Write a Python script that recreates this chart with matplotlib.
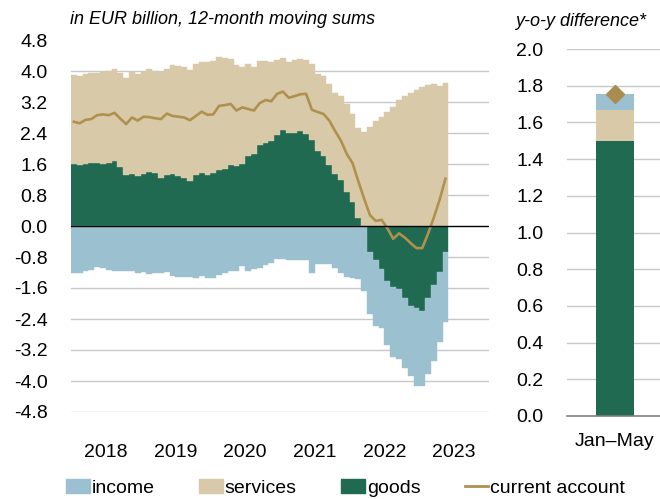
import numpy as np
import matplotlib
matplotlib.use('Agg')
import matplotlib.pyplot as plt
from matplotlib.patches import Patch
from matplotlib.lines import Line2D

plt.rcParams['font.family'] = ['Liberation Sans', 'DejaVu Sans']
plt.rcParams['axes.unicode_minus'] = False

# monthly data, Jan 2018 - May 2023 (EUR bn, 12-month moving sums)
goods = [1.60, 1.58, 1.60, 1.62, 1.62, 1.61, 1.62, 1.67, 1.51, 1.32, 1.35, 1.29,
         1.33, 1.40, 1.36, 1.25, 1.32, 1.35, 1.29, 1.25, 1.16, 1.32, 1.36, 1.32,
         1.37, 1.44, 1.47, 1.57, 1.56, 1.60, 1.81, 1.85, 2.10, 2.13, 2.20, 2.35,
         2.47, 2.39, 2.41, 2.44, 2.37, 2.22, 1.94, 1.81, 1.57, 1.35, 1.20, 0.89,
         0.63, 0.20, -0.03, -0.66, -0.88, -1.12, -1.41, -1.58, -1.62, -1.87, -2.06, -2.12,
         -2.19, -1.87, -1.52, -1.18, -0.66]
services = [2.30, 2.30, 2.31, 2.32, 2.34, 2.36, 2.38, 2.39, 2.43, 2.49, 2.62, 2.64,
            2.64, 2.64, 2.65, 2.72, 2.74, 2.81, 2.84, 2.85, 2.87, 2.87, 2.86, 2.92,
            2.88, 2.91, 2.86, 2.74, 2.59, 2.50, 2.36, 2.25, 2.17, 2.13, 2.04, 1.93,
            1.86, 1.83, 1.87, 1.86, 1.91, 1.95, 1.99, 2.06, 2.10, 2.08, 2.16, 2.26,
            2.27, 2.32, 2.43, 2.55, 2.70, 2.81, 2.94, 3.06, 3.24, 3.35, 3.42, 3.51,
            3.59, 3.64, 3.67, 3.62, 3.68]
income = [-1.20, -1.20, -1.15, -1.13, -1.07, -1.08, -1.14, -1.15, -1.16, -1.17, -1.16, -1.20,
          -1.18, -1.24, -1.22, -1.20, -1.19, -1.30, -1.32, -1.31, -1.32, -1.35, -1.28, -1.35,
          -1.35, -1.26, -1.20, -1.15, -1.15, -1.02, -1.17, -1.12, -1.08, -1.01, -0.96, -0.85,
          -0.86, -0.89, -0.89, -0.89, -0.87, -1.20, -0.99, -0.99, -0.98, -1.09, -1.20, -1.32,
          -1.35, -1.36, -1.65, -1.62, -1.70, -1.50, -1.66, -1.81, -1.80, -1.80, -1.80, -2.01,
          -1.94, -1.95, -1.96, -1.82, -1.81]
current_account = [2.69, 2.65, 2.74, 2.76, 2.86, 2.88, 2.86, 2.92, 2.77, 2.63, 2.80, 2.72,
                   2.82, 2.81, 2.78, 2.76, 2.90, 2.84, 2.82, 2.80, 2.73, 2.84, 2.95, 2.87,
                   2.88, 3.10, 3.12, 3.15, 2.98, 3.06, 3.02, 2.98, 3.17, 3.25, 3.22, 3.41,
                   3.47, 3.31, 3.35, 3.40, 3.41, 3.00, 2.94, 2.89, 2.72, 2.45, 2.20, 1.86,
                   1.62, 1.15, 0.70, 0.28, 0.13, 0.16, -0.06, -0.33, -0.19, -0.30, -0.44, -0.57,
                   -0.57, -0.20, 0.22, 0.68, 1.22]
years = ['2018', '2019', '2020', '2021', '2022', '2023']

# y-o-y difference, Jan-May
diff_label = ['Jan\u2013May']
diff_goods = [1.50]
diff_services = [0.17]
diff_income = [0.086]
diff_ca = [1.756]

c_income = '#9bc1d1'
c_services = '#d8caa8'
c_goods = '#1f6a50'
c_line = '#b0904f'
c_grid = '#c8c8c8'

fig = plt.figure(figsize=(6.6, 4.99), dpi=100)

# left panel
ax = fig.add_axes([71/660, 1-412/499, 418/660, 372/499])
x = np.arange(len(goods))
g = np.array(goods)
pos_base = np.clip(g, 0, None)
neg_base = np.clip(g, None, 0)
kw = dict(width=1.0, linewidth=0.3)
ax.bar(x, g, color=c_goods, edgecolor=c_goods, **kw)
ax.bar(x, services, bottom=pos_base, color=c_services, edgecolor=c_services, **kw)
ax.bar(x, income, bottom=neg_base, color=c_income, edgecolor=c_income, **kw)
ax.plot(x, current_account, color=c_line, lw=1.9, zorder=4)
ax.axhline(0, color='black', lw=1.0, zorder=5)

ax.set_xlim(-0.5, 71.5)
ax.set_ylim(-4.8, 4.8)
yt = np.arange(-4.8, 4.81, 0.8)
ax.set_yticks(yt)
ax.set_yticklabels([f'{v:.1f}' if abs(v) > 1e-9 else '0.0' for v in yt])
for v in yt[:-1]:
    if abs(v) > 1e-9:
        ax.axhline(v, color=c_grid, lw=1.0, zorder=0)
ax.set_xticks(np.arange(len(years)) * 12 + 5.5)
ax.set_xticklabels(years)
ax.tick_params(axis='both', length=0, labelsize=14)
ax.tick_params(axis='x', pad=23)
ax.tick_params(axis='y', pad=17)
for s in ax.spines.values():
    s.set_visible(False)

# right panel
ax2 = fig.add_axes([567/660, 1-416/499, 93/660, 367/499])
ax2.bar(0, diff_goods, width=0.41, color=c_goods)
ax2.bar(0, diff_services, bottom=diff_goods, width=0.41, color=c_services)
ax2.bar(0, diff_income, bottom=np.add(diff_goods, diff_services), width=0.41, color=c_income)
ax2.plot(0, diff_ca, marker='D', ms=9.5, color='#ab8c50', ls='none', zorder=4)
ax2.set_xlim(-0.516, 0.484)
ax2.set_ylim(0, 2.0)
yt2 = np.arange(0, 2.01, 0.2)
ax2.set_yticks(yt2)
ax2.set_yticklabels([f'{v:.1f}' for v in yt2])
for v in yt2[1:]:
    ax2.axhline(v, color=c_grid, lw=1.0, zorder=0)
ax2.set_xticks([0])
ax2.set_xticklabels(diff_label)
ax2.tick_params(axis='both', length=0, labelsize=14)
ax2.tick_params(axis='x', pad=12)
ax2.tick_params(axis='y', pad=17)
for s in ['top', 'right', 'left']:
    ax2.spines[s].set_visible(False)
ax2.spines['bottom'].set_color('#7f7f7f')
ax2.spines['bottom'].set_linewidth(1.2)

fig.text(70/660, 1-20/499, 'in EUR billion, 12-month moving sums', fontsize=13,
         style='italic', va='center', ha='left')
fig.text(515/660, 1-21/499, 'y-o-y difference*', fontsize=13,
         style='italic', va='center', ha='left')

handles = [Patch(color=c_income), Patch(color=c_services), Patch(color=c_goods),
           Line2D([], [], color=c_line, lw=2)]
fig.legend(handles, ['income', 'services', 'goods', 'current account'],
           loc='center', bbox_to_anchor=(0.524, 0.022), ncol=4, frameon=False,
           fontsize=14, handlelength=1.2, handletextpad=0.1, columnspacing=2.3,
           borderpad=0, borderaxespad=0)

fig.savefig('out.png', dpi=100)
